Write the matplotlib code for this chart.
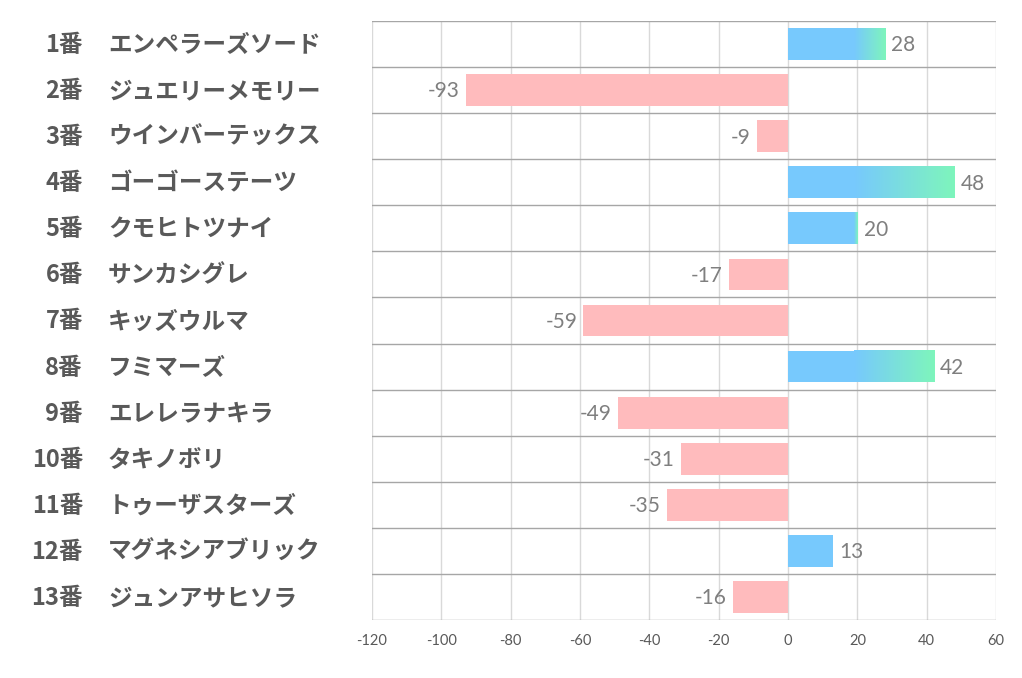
import numpy as np
import matplotlib.pyplot as plt
from matplotlib.colors import LinearSegmentedColormap

# data
numbers = ['1番', '2番', '3番', '4番', '5番', '6番', '7番', '8番', '9番', '10番', '11番', '12番', '13番']
names = ['エンペラーズソード', 'ジュエリーメモリー', 'ウインバーテックス', 'ゴーゴーステーツ',
         'クモヒトツナイ', 'サンカシグレ', 'キッズウルマ', 'フミマーズ', 'エレレラナキラ',
         'タキノボリ', 'トゥーザスターズ', 'マグネシアブリック', 'ジュンアサヒソラ']
values = [28, -93, -9, 48, 20, -17, -59, 42, -49, -31, -35, 13, -16]
xticks = [-120, -100, -80, -60, -40, -20, 0, 20, 40, 60]

blue = '#77C9FD'
green = '#7EF5BC'
pink = '#FFBBBD'
grad_start = 19
bar_h = 0.69

plt.rcParams['font.family'] = ['Noto Sans CJK JP', 'DejaVu Sans']

fig = plt.figure(figsize=(10.22, 6.78), dpi=100)
ax = fig.add_axes([372 / 1022, 1 - 620 / 678, (996 - 372) / 1022, (620 - 21) / 678])

n = len(values)
ys = np.arange(n)
cmap = LinearSegmentedColormap.from_list('bg', [blue, green])

for y, v in zip(ys, values):
    if v < 0:
        ax.barh(y, v, height=bar_h, color=pink, zorder=3)
    elif v > grad_start:
        ax.barh(y, grad_start, height=bar_h, color=blue, zorder=3)
        grad = np.linspace(0, 1, 64).reshape(1, -1)
        ax.imshow(grad, cmap=cmap, aspect='auto', zorder=3,
                  extent=[grad_start - 0.1, v, y + bar_h / 2, y - bar_h / 2])
    else:
        ax.barh(y, v, height=bar_h, color=blue, zorder=3)

    if v < 0:
        ax.text(v - 1.8, y + 0.03, str(v), ha='right', va='center', fontsize=15,
                color='#7F7F7F', family=['Lato', 'DejaVu Sans'])
    else:
        ax.text(v + 1.8, y + 0.03, str(v), ha='left', va='center', fontsize=15,
                color='#7F7F7F', family=['Lato', 'DejaVu Sans'])

ax.set_xlim(-120, 60)
ax.set_ylim(n - 0.5, -0.5)
ax.set_xticks(xticks)
ax.set_xticklabels([str(t) for t in xticks], fontsize=10.5, color='#595959',
                   family=['Lato', 'DejaVu Sans'])
ax.tick_params(axis='x', length=0, pad=10)
ax.set_yticks([])

for t in xticks:
    ax.axvline(t, color='#D9D9D9', linewidth=1, zorder=1)
for b in np.arange(-0.5, n, 1):
    ax.axhline(b, color='#A6A6A6', linewidth=1, zorder=2)

for s in ax.spines.values():
    s.set_visible(False)

# row labels
for y, num, name in zip(ys, numbers, names):
    ax.annotate(num, xy=(0, y), xycoords=('axes fraction', 'data'),
                xytext=(83 - 372, -1), textcoords='offset pixels',
                ha='right', va='center', fontsize=17, fontweight='bold', color='#595959')
    ax.annotate(name, xy=(0, y), xycoords=('axes fraction', 'data'),
                xytext=(108 - 372, -1), textcoords='offset pixels',
                ha='left', va='center', fontsize=17, fontweight='bold', color='#595959')

fig.savefig('out.png', dpi=100)
